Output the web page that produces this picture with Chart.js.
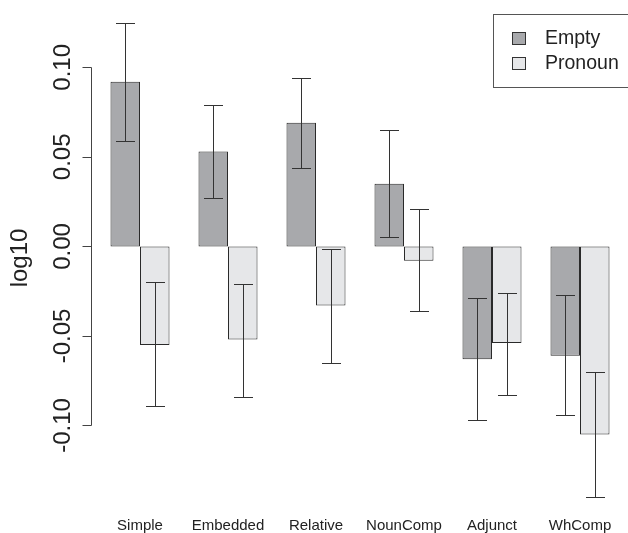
<!DOCTYPE html>
<html>
<head>
<meta charset="utf-8">
<script src="https://cdn.jsdelivr.net/npm/chart.js@4.4.0/dist/chart.umd.min.js"></script>
<style>
  html, body { margin: 0; padding: 0; background: #fff; }
  #wrap { width: 628px; height: 533px; }
</style>
</head>
<body>
<div id="wrap"><canvas id="barChart" width="628" height="533"></canvas></div>
<script>
// Data
const categories = ['Simple', 'Embedded', 'Relative', 'NounComp', 'Adjunct', 'WhComp'];
const seriesNames = ['Empty', 'Pronoun'];
const emptyVals = [0.092, 0.053, 0.069, 0.035, -0.063, -0.061];
const pronounVals = [-0.055, -0.052, -0.033, -0.008, -0.054, -0.105];
const emptyLow = [0.059, 0.027, 0.044, 0.005, -0.097, -0.094];
const emptyHigh = [0.125, 0.079, 0.094, 0.065, -0.029, -0.027];
const pronounLow = [-0.089, -0.084, -0.065, -0.036, -0.083, -0.140];
const pronounHigh = [-0.020, -0.021, -0.0015, 0.021, -0.026, -0.070];
const yTicks = [-0.10, -0.05, 0.00, 0.05, 0.10];
const yTickLabels = ['-0.10', '-0.05', '0.00', '0.05', '0.10'];
const yTitle = 'log10';

const FONT = '"Liberation Sans", Arial, Helvetica, sans-serif';
const errLow = [emptyLow, pronounLow];
const errHigh = [emptyHigh, pronounHigh];

// R style error bars
const errorBars = {
    id: 'errorBars',
    afterDatasetsDraw(chart) {
        const c = chart.ctx;
        const y = chart.scales.y;
        c.save();
        c.strokeStyle = '#333';
        c.lineWidth = 1;
        chart.data.datasets.forEach((ds, i) => {
            chart.getDatasetMeta(i).data.forEach((bar, j) => {
                const x = Math.round(bar.x) + 0.5;
                const y1 = Math.round(y.getPixelForValue(errLow[i][j])) + 0.5;
                const y2 = Math.round(y.getPixelForValue(errHigh[i][j])) + 0.5;
                c.beginPath();
                c.moveTo(x, y1); c.lineTo(x, y2);
                c.moveTo(x - 9.5, y1); c.lineTo(x + 9.5, y1);
                c.moveTo(x - 9.5, y2); c.lineTo(x + 9.5, y2);
                c.stroke();
            });
        });
        c.restore();
    }
};

// R style axes: y line only over the tick range, rotated labels, plain category names
const rAxis = {
    id: 'rAxis',
    afterDraw(chart) {
        const c = chart.ctx;
        const y = chart.scales.y;
        const x = chart.scales.x;
        const ax = Math.round(chart.chartArea.left - 5) + 0.5;
        const top = Math.round(y.getPixelForValue(yTicks[yTicks.length - 1])) + 0.5;
        const bot = Math.round(y.getPixelForValue(yTicks[0])) + 0.5;
        c.save();
        c.strokeStyle = '#444';
        c.lineWidth = 1;
        c.beginPath();
        c.moveTo(ax, top); c.lineTo(ax, bot);
        yTicks.forEach(v => {
            const py = Math.round(y.getPixelForValue(v)) + 0.5;
            c.moveTo(ax, py); c.lineTo(ax - 9, py);
        });
        c.stroke();

        c.fillStyle = '#222';
        c.font = '24px ' + FONT;
        c.textAlign = 'center';
        c.textBaseline = 'alphabetic';
        yTicks.forEach((v, k) => {
            c.save();
            c.translate(70, y.getPixelForValue(v));
            c.rotate(-Math.PI / 2);
            c.fillText(yTickLabels[k], 0, 0);
            c.restore();
        });
        c.save();
        c.translate(27, 258);
        c.rotate(-Math.PI / 2);
        c.fillText(yTitle, 0, 0);
        c.restore();

        // category names under the groups
        c.font = '15px ' + FONT;
        c.textBaseline = 'middle';
        categories.forEach((name, i) => {
            c.fillText(name, x.getPixelForValue(i), 526);
        });

        // legend box in the top right corner
        c.strokeStyle = '#555';
        c.strokeRect(493.5, 14.5, 140, 73);
        c.font = '19.5px ' + FONT;
        c.textAlign = 'left';
        chart.data.datasets.forEach((ds, i) => {
            const ly = 32 + i * 25;
            c.fillStyle = ds.backgroundColor;
            c.fillRect(512, ly, 13, 12);
            c.strokeStyle = '#333';
            c.strokeRect(512.5, ly + 0.5, 13, 12);
            c.fillStyle = '#222';
            c.fillText(seriesNames[i], 545, ly + 7);
        });
        c.restore();
    }
};

const chart = new Chart(document.getElementById('barChart').getContext('2d'), {
    type: 'bar',
    data: {
        labels: categories,
        datasets: [{
            label: seriesNames[0],
            data: emptyVals,
            backgroundColor: '#a8a9ac',
            borderColor: '#2a2a2a',
            borderWidth: 1,
            borderSkipped: false,
            categoryPercentage: 59 / 88,
            barPercentage: 1
        }, {
            label: seriesNames[1],
            data: pronounVals,
            backgroundColor: '#e6e7e9',
            borderColor: '#2a2a2a',
            borderWidth: 1,
            borderSkipped: false,
            categoryPercentage: 59 / 88,
            barPercentage: 1
        }]
    },
    options: {
        responsive: false,
        animation: false,
        layout: { padding: { left: 96, right: 4, top: 5, bottom: 18 } },
        plugins: {
            legend: { display: false },
            tooltip: { enabled: false }
        },
        scales: {
            x: { display: false },
            y: {
                display: false,
                min: -0.15,
                max: 0.1348
            }
        }
    },
    plugins: [errorBars, rAxis]
});
</script>
</body>
</html>
